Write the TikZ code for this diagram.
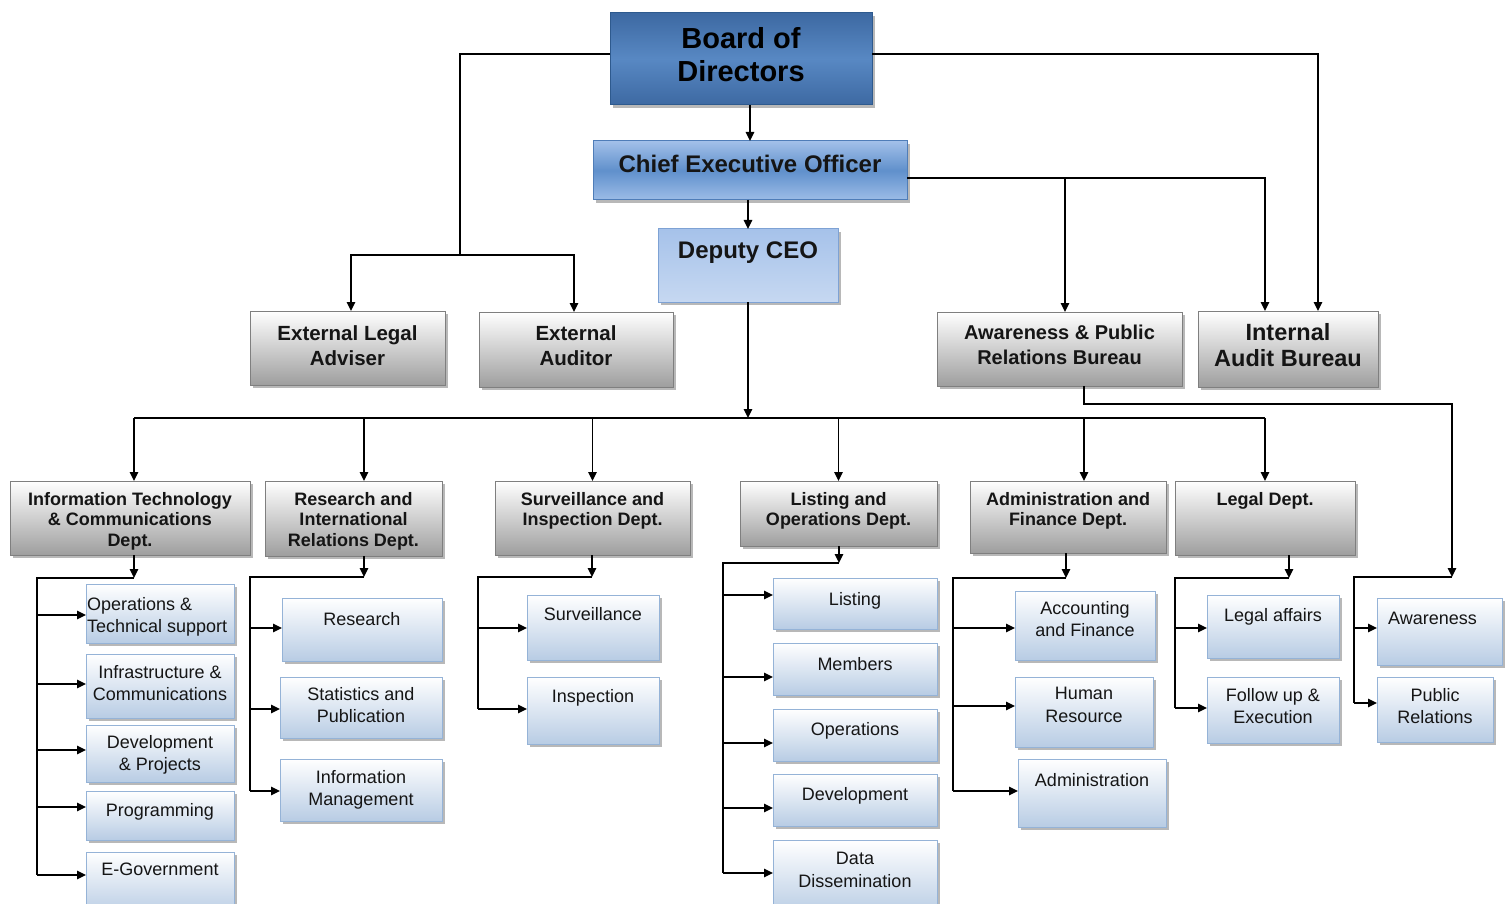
\documentclass[tikz,border=0pt]{standalone}
\usepackage{fontspec}
\setmainfont{Liberation Sans}
\usetikzlibrary{arrows.meta,shadows}
\definecolor{gline}{HTML}{7F7F7F}
\definecolor{gbot}{HTML}{9E9E9E}
\definecolor{sline}{HTML}{95B3D7}
\definecolor{sbot}{HTML}{B8CCE4}
\definecolor{bdline}{HTML}{2E5A8E}
\definecolor{bdtop}{HTML}{3D69A2}
\definecolor{bdmid}{HTML}{5888C3}
\definecolor{ceotop}{HTML}{A2C0E9}
\definecolor{ceomid}{HTML}{6090CC}
\definecolor{ceobot}{HTML}{9CBCE7}
\definecolor{ceoline}{HTML}{4F7DB8}
\definecolor{deptop}{HTML}{A6C2EA}
\definecolor{depbot}{HTML}{C6D8F1}
\definecolor{depline}{HTML}{7EA2D4}
\definecolor{txt}{HTML}{151515}
\tikzset{
  box/.style={draw, line width=1pt, inner sep=0pt, outer sep=0pt, anchor=north west,
    drop shadow={shadow xshift=3pt, shadow yshift=-3pt, fill=black, opacity=0.28}},
  gbox/.style={box, draw=gline, top color=white, bottom color=gbot},
  sbox/.style={box, draw=sline, top color=white, bottom color=sbot},
  bdbox/.style={box, draw=bdline, top color=bdtop, bottom color=bdtop, middle color=bdmid},
  ceobox/.style={box, draw=ceoline, top color=ceotop, bottom color=ceobot, middle color=ceomid},
  depbox/.style={box, draw=depline, top color=deptop, bottom color=depbot},
  lbl/.style={inner sep=0pt, anchor=north, align=center, text=txt},
  fB/.style={font=\bfseries\fontsize{29}{33}\selectfont, text=black},
  fC/.style={font=\bfseries\fontsize{24}{28}\selectfont},
  fT/.style={font=\bfseries\fontsize{20.5}{25}\selectfont},
  fA/.style={font=\bfseries\fontsize{20}{25}\selectfont},
  fI/.style={font=\bfseries\fontsize{23.5}{26}\selectfont},
  fD/.style={font=\bfseries\fontsize{18}{20.5}\selectfont},
  fS/.style={font=\fontsize{18}{22.5}\selectfont},
  ln/.style={line width=1.5pt, draw=black},
  arr/.style={ln, -{Triangle[length=9pt,width=8.5pt]}},
}
\newcommand\bx[9]{%
  \node[#2, minimum width={(#5-#3)*1pt}, minimum height={(#6-#4)*1pt}] (#1) at (#3,#4) {};
  \node[lbl,#8] (#1-t) at ([yshift=-#7pt]#1.north) {#9};
}
\newcommand\subarrow[3]{%
  \coordinate (#2a) at ([yshift=-#3pt]#2.north west);
  \draw[arr] (#1 |- #2a) -- (#2a);
}
\begin{document}
\begin{tikzpicture}[x=1pt,y=-1pt]
\path[use as bounding box, clip] (0,0) rectangle (1508,904);
\fill[white] (0,0) rectangle (1508,904);

% ---- top level boxes
\bx{board}{bdbox}{610}{13}{872}{105}{14}{fB}{Board of\\Directors}
\bx{ceo}{ceobox}{593}{141}{907}{200}{14}{fC}{Chief Executive Officer}
\bx{dep}{depbox}{658}{229}{838}{302}{13}{fC}{Deputy CEO}
\bx{ela}{gbox}{250}{311}{445}{385}{14}{fT}{External Legal\\Adviser}
\bx{ea}{gbox}{479}{312}{673}{387}{13}{fT}{External\\Auditor}
\bx{apr}{gbox}{937}{312}{1182}{386}{13}{fA}{Awareness \& Public\\Relations Bureau}
\bx{iab}{gbox}{1198}{311}{1378}{387}{12}{fI}{Internal\\Audit Bureau}

% ---- departments
\bx{it}{gbox}{10}{481}{250}{555}{11}{fD}{Information Technology\\\& Communications\\Dept.}
\bx{res}{gbox}{265}{481}{442}{556}{11}{fD}{Research and\\International\\Relations Dept.}
\bx{surv}{gbox}{495}{481}{690}{555}{11}{fD}{Surveillance and\\Inspection Dept.}
\bx{lst}{gbox}{740}{481}{937}{546}{11}{fD}{Listing and\\Operations Dept.}
\bx{adm}{gbox}{970}{481}{1166}{553}{11}{fD}{Administration and\\Finance Dept.}
\bx{leg}{gbox}{1175}{481}{1355}{555}{11}{fD}{Legal Dept.}

% ---- sub units
\node[sbox, minimum width=148pt, minimum height=59pt] (it1) at (86,584) {};
\node[lbl, fS, anchor=north west, align=left] (it1-t) at ([xshift=1pt,yshift=-13pt]it1.north west) {Operations \&\\Technical support};
\bx{it2}{sbox}{86}{654}{234}{718}{11}{fS}{Infrastructure \&\\Communications}
\bx{it3}{sbox}{86}{725}{234}{782}{10}{fS}{Development\\\& Projects}
\bx{it4}{sbox}{86}{791}{234}{840}{12}{fS}{Programming}
\bx{it5}{sbox}{86}{852}{234}{915}{11}{fS}{E-Government}

\bx{r1}{sbox}{282}{598}{442}{661}{14}{fS}{Research}
\bx{r2}{sbox}{280}{677}{442}{738}{10}{fS}{Statistics and\\Publication}
\bx{r3}{sbox}{280}{759}{442}{821}{11}{fS}{Information\\Management}

\bx{s1}{sbox}{527}{595}{659}{660}{12}{fS}{Surveillance}
\bx{s2}{sbox}{527}{677}{659}{744}{12}{fS}{Inspection}

\bx{l1}{sbox}{773}{578}{937}{629}{14}{fS}{Listing}
\bx{l2}{sbox}{773}{643}{937}{695}{14}{fS}{Members}
\bx{l3}{sbox}{773}{709}{937}{761}{13}{fS}{Operations}
\bx{l4}{sbox}{773}{774}{937}{826}{13}{fS}{Development}
\bx{l5}{sbox}{773}{840}{937}{915}{12}{fS}{Data\\Dissemination}

\bx{a1}{sbox}{1015}{591}{1155}{660}{10}{fS}{Accounting\\and Finance}
\bx{a2}{sbox}{1015}{677}{1153}{747}{10}{fS}{Human\\Resource}
\bx{a3}{sbox}{1018}{759}{1166}{827}{14}{fS}{Administration}

\bx{g1}{sbox}{1207}{595}{1339}{658}{13}{fS}{Legal affairs}
\bx{g2}{sbox}{1207}{677}{1339}{743}{11}{fS}{Follow up \&\\Execution}

\bx{w1}{sbox}{1377}{598}{1502}{665}{14}{fS,xshift=-7pt}{Awareness}
\bx{w2}{sbox}{1377}{677}{1493}{742}{11}{fS}{Public\\Relations}

% ---- top connectors
\draw[arr] (ceo.north |- board.south) -- (ceo.north);
\draw[arr] (dep.north |- ceo.south) -- (dep.north);
\coordinate (jL) at (460,255);
\draw[ln] ([yshift=5pt]board.west) -| (jL);
\draw[arr] (jL) -| ([xshift=3.5pt]ela.north);
\draw[arr] (jL) -| ([xshift=-2pt]ea.north);
\draw[arr] ([yshift=5pt]board.east) -| ([xshift=30pt]iab.north);
\coordinate (cR) at ([yshift=-7.5pt]ceo.east);
\draw[arr] (cR) -| ([xshift=-23pt]iab.north);
\draw[arr] ([xshift=5.5pt]apr.north |- cR) -- ([xshift=5.5pt]apr.north);

% ---- deputy to departments
\coordinate (hub) at (748,418);
\draw[arr] (dep.south) -- (hub);
\draw[ln] ([xshift=4pt]it.north |- hub) -- (leg.north |- hub);
\draw[arr] ([xshift=4pt]it.north |- hub) -- ([xshift=4pt]it.north);
\draw[arr] ([xshift=10.5pt]res.north |- hub) -- ([xshift=10.5pt]res.north);
\draw[arr] (surv.north |- hub) -- (surv.north);
\draw[arr] (lst.north |- hub) -- (lst.north);
\draw[arr] ([xshift=16pt]adm.north |- hub) -- ([xshift=16pt]adm.north);
\draw[arr] (leg.north |- hub) -- (leg.north);

% ---- awareness bureau route
\coordinate (awK) at (1452,404);
\coordinate (awJ) at (1452,577);
\draw[arr] ([xshift=24.5pt]apr.south) |- (awK) -- (awJ);

% ---- IT bus
\coordinate (itB) at (134,578);
\coordinate (itX) at (37,578);
\draw[arr] (it.south -| itB) -- (itB);
\subarrow{itX}{it1}{31}
\subarrow{itX}{it2}{30}
\subarrow{itX}{it3}{25}
\subarrow{itX}{it4}{16}
\subarrow{itX}{it5}{23}
\draw[ln] (itB) -- (itX) -- (itX |- it5a);

% ---- Research bus
\coordinate (resB) at (364,577);
\coordinate (resX) at (250,577);
\draw[arr] (res.south -| resB) -- (resB);
\subarrow{resX}{r1}{30}
\subarrow{resX}{r2}{32}
\subarrow{resX}{r3}{32}
\draw[ln] (resB) -- (resX) -- (resX |- r3a);

% ---- Surveillance bus
\coordinate (survB) at (592,577);
\coordinate (survX) at (478,577);
\draw[arr] (surv.south -| survB) -- (survB);
\subarrow{survX}{s1}{33}
\subarrow{survX}{s2}{32}
\draw[ln] (survB) -- (survX) -- (survX |- s2a);

% ---- Listing bus
\coordinate (lstB) at (839,563);
\coordinate (lstX) at (723,563);
\draw[arr] (lst.south -| lstB) -- (lstB);
\subarrow{lstX}{l1}{17}
\subarrow{lstX}{l2}{34}
\subarrow{lstX}{l3}{34}
\subarrow{lstX}{l4}{34}
\subarrow{lstX}{l5}{33}
\draw[ln] (lstB) -- (lstX) -- (lstX |- l5a);

% ---- Administration bus
\coordinate (admB) at (1066,578);
\coordinate (admX) at (953,578);
\draw[arr] (adm.south -| admB) -- (admB);
\subarrow{admX}{a1}{37}
\subarrow{admX}{a2}{29}
\subarrow{admX}{a3}{32}
\draw[ln] (admB) -- (admX) -- (admX |- a3a);

% ---- Legal bus
\coordinate (legB) at (1289,578);
\coordinate (legX) at (1175,578);
\draw[arr] (leg.south -| legB) -- (legB);
\subarrow{legX}{g1}{33}
\subarrow{legX}{g2}{31}
\draw[ln] (legB) -- (legX) -- (legX |- g2a);

% ---- Awareness bus
\coordinate (awX) at (1354,577);
\subarrow{awX}{w1}{30}
\subarrow{awX}{w2}{26}
\draw[ln] (awJ) -- (awX) -- (awX |- w2a);
\end{tikzpicture}
\end{document}
